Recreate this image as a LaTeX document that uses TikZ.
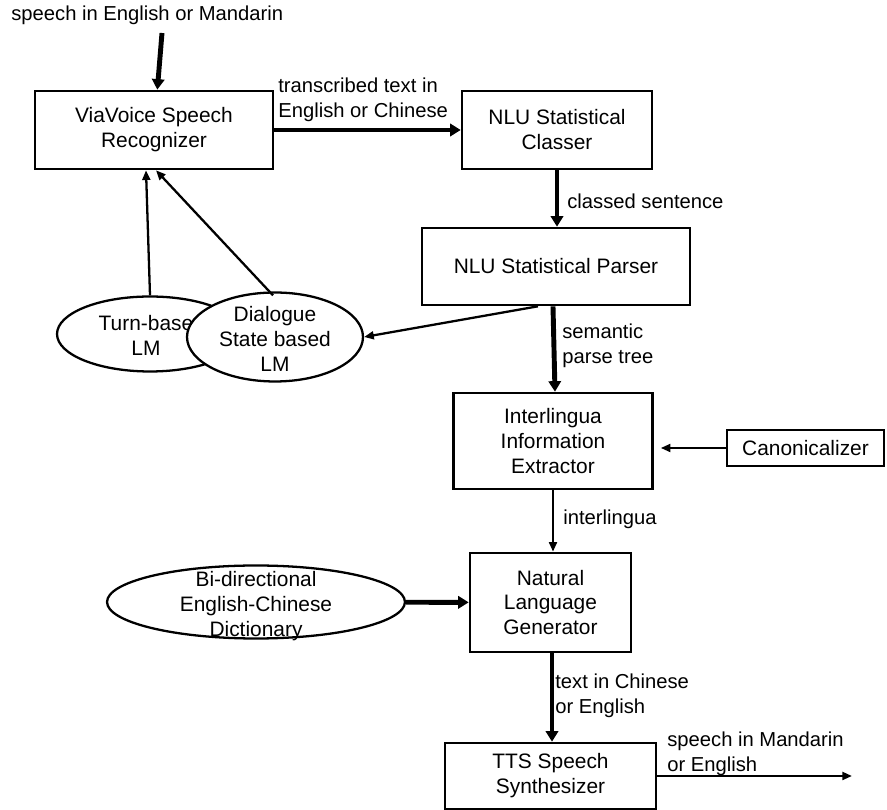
\documentclass[tikz,border=0pt]{standalone}
\usepackage{fontspec}
\setmainfont{Liberation Sans}
\usetikzlibrary{arrows.meta,shapes.geometric}

\begin{document}
\begin{tikzpicture}[x=0.02cm,y=-0.02cm,
    box/.style={draw,line width=1.5pt,fill=white,align=center,inner sep=0pt,font=\fontsize{11.9}{14.2}\selectfont},
    oval/.style={draw,ellipse,line width=1.3pt,fill=white,inner sep=0pt},
    ovaltext/.style={align=center,inner sep=0pt,font=\fontsize{11.9}{14.2}\selectfont},
    lbl/.style={align=left,inner sep=0pt,anchor=west,font=\fontsize{11.5}{14.2}\selectfont},
    fat/.style={line width=2.8pt,-{Triangle[length=6pt,width=7pt]}},
    slim/.style={line width=1.3pt,-{Triangle[length=5.5pt,width=4.5pt]}}]
  \useasboundingbox (0,0) rectangle (887,810);

  \node[lbl] (spk) at (11,15) {speech in English or Mandarin};
  \coordinate (src) at (162,33);
  \node[box,minimum width=4.76cm,minimum height=1.56cm] (via) at (154,130) {ViaVoice Speech\\Recognizer};
  \node[box,minimum width=3.8cm,minimum height=1.56cm] (classer) at (557,130) {NLU Statistical\\Classer};
  \node[box,minimum width=5.36cm,minimum height=1.54cm] (parser) at (556,266.5) {NLU Statistical Parser};
  \node[box,minimum width=3.98cm,minimum height=1.92cm] (il) at (553,441) {Interlingua\\Information\\Extractor};
  \node[box,minimum width=3.14cm,minimum height=0.72cm] (canon) at (805.5,448) {Canonicalizer};
  \node[box,minimum width=3.22cm,minimum height=1.98cm] (nlg) at (550.5,602.5) {Natural\\Language\\Generator};
  \node[box,minimum width=4.22cm,minimum height=1.32cm] (tts) at (550.5,776) {TTS Speech\\Synthesizer};
  \coordinate (out) at (852,776);

  \node[oval,minimum width=3.72cm,minimum height=1.5cm] (turn) at (150,334) {};
  \node[ovaltext] (turntxt) at (146,335) {Turn-base\\LM};
  \node[oval,minimum width=3.52cm,minimum height=1.78cm] (dlg) at (275,337) {};
  \node[ovaltext] (dlgtxt) at (275,339) {Dialogue\\State based\\LM};
  \node[oval,minimum width=5.96cm,minimum height=1.46cm] (dict) at (256,602) {};
  \node[ovaltext] (dicttxt) at (256,606) {Bi-directional\\English-Chinese\\Dictionary};

  \draw[fat] (src) -- (via);
  \draw[fat] (via) -- (classer);
  \node[lbl] (lbltr) at (278,100) {transcribed text in\\English or Chinese};
  \draw[fat] (classer.south) -- (classer.south |- parser.north);
  \node[lbl] (lblcl) at (567,201) {classed sentence};
  \draw[slim] (turn.north) -- ([xshift=-0.16cm]via.south);
  \draw[slim] ([xshift=-0.04cm,yshift=-0.08cm]dlg.north) -- ([xshift=0.04cm]via.south);
  \draw[slim] ([xshift=-0.36cm]parser.south) -- (dlg.east);
  \draw[fat] (il.north |- parser.south) -- ([xshift=0.04cm]il.north);
  \node[lbl] (lblsem) at (562,346) {semantic\\parse tree};
  \draw[slim,shorten >=0.14cm] (canon.west) -- (canon.west -| il.east);
  \draw[slim] (il.south) -- (il.south |- nlg.north);
  \node[lbl] (lblil) at (563,519) {interlingua};
  \draw[fat] (dict) -- (nlg);
  \draw[fat] ([xshift=0.03cm]nlg.south) -- ([xshift=0.03cm]tts.north);
  \node[lbl] (lbltxt) at (555,696) {text in Chinese\\or English};
  \draw[slim] (tts.east) -- (out);
  \node[lbl] (lblout) at (667,754) {speech in Mandarin\\or English};
\end{tikzpicture}
\end{document}
